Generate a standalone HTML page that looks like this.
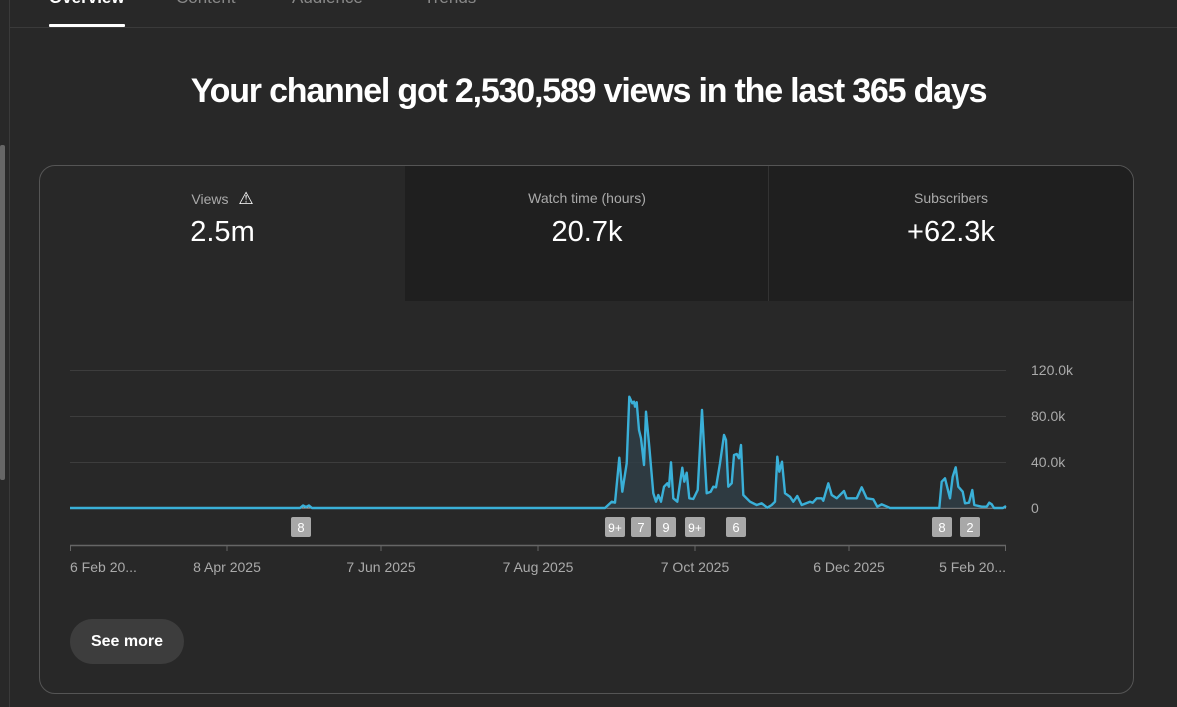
<!DOCTYPE html>
<html><head><meta charset="utf-8"><style>
body{margin:0;width:1177px;height:707px;background:#282828;overflow:hidden;font-family:"Liberation Sans",sans-serif;position:relative}
.a{position:absolute}
</style></head><body>
<div class="a" style="left:9px;top:0;width:1px;height:707px;background:#3a3a3a"></div>
<div class="a" style="left:0;top:145px;width:5px;height:335px;background:#666;border-radius:2px"></div>
<div class="a" style="left:10px;top:27px;width:1167px;height:1px;background:#3a3a3a"></div>
<div class="a" style="left:49px;top:-12px;font-size:17px;font-weight:bold;color:#fff">Overview</div>
<div class="a" style="left:176px;top:-12px;font-size:17px;color:#888">Content</div>
<div class="a" style="left:292px;top:-12px;font-size:17px;color:#888">Audience</div>
<div class="a" style="left:424px;top:-12px;font-size:17px;color:#888">Trends</div>
<div class="a" style="left:49px;top:24px;width:76px;height:3px;background:#fff;border-radius:1px"></div>
<div class="a" style="left:0;width:1177px;top:72px;text-align:center;font-size:34px;font-weight:bold;color:#fff;letter-spacing:-1.2px">Your channel got 2,530,589 views in the last 365 days</div>
<div class="a" style="left:39px;top:165px;width:1093px;height:527px;border:1px solid #555;border-radius:16px;overflow:hidden">
  <div class="a" style="left:365px;top:0;width:728px;height:135px;background:#1f1f1f"></div>
  <div class="a" style="left:728px;top:0;width:1px;height:135px;background:#333"></div>
  <div class="a" style="left:0;width:365px;top:23px;text-align:center;font-size:14px;color:#aaa">Views <span style="color:#fff;font-size:17px;margin-left:6px">⚠</span></div>
  <div class="a" style="left:0;width:365px;top:50px;text-align:center;font-size:29px;color:#fff">2.5m</div>
  <div class="a" style="left:365px;width:364px;top:24px;text-align:center;font-size:14px;color:#aaa">Watch time (hours)</div>
  <div class="a" style="left:365px;width:364px;top:50px;text-align:center;font-size:29px;color:#fff">20.7k</div>
  <div class="a" style="left:729px;width:364px;top:24px;text-align:center;font-size:14px;color:#aaa">Subscribers</div>
  <div class="a" style="left:729px;width:364px;top:50px;text-align:center;font-size:29px;color:#fff">+62.3k</div>
</div>
<svg class="a" style="left:0;top:0" width="1177" height="707">
<g stroke="#3d3d3d" stroke-width="1"><line x1="70" x2="1006" y1="370.5" y2="370.5"/><line x1="70" x2="1006" y1="416.5" y2="416.5"/><line x1="70" x2="1006" y1="462.5" y2="462.5"/></g>
<line x1="70" x2="1006" y1="508" y2="508" stroke="#bbb" stroke-width="1"/>
<g font-size="14" fill="#aaa" font-family="Liberation Sans"><text x="1031" y="375">120.0k</text><text x="1031" y="421">80.0k</text><text x="1031" y="467">40.0k</text><text x="1031" y="513">0</text></g>
<polygon fill="#2f3f47" opacity="0.8" points="590,508 605,508 611.7,501.7 615,502.7 619.3,457.7 622.3,491.7 626.7,463.3 629.3,396.7 632.3,403.3 634,401.7 635,406.7 636.7,402.3 639,430 641,438.3 644,465 646,411.7 649.3,446.7 653.3,493.3 656,501.7 658.3,495 661,501.7 664,486.7 667.3,483.3 669,486.7 671,462.3 673.3,498.3 677.3,501.7 682.3,467.7 684.3,481.7 686.7,472.7 689.3,498.3 693.3,499 697.7,490 702,410 706.7,493.3 710.7,491.7 713.3,486.7 716,487.3 720,463.3 724,435 726,440 728.3,486.7 731.7,483.3 734,455 736.7,454 739,458.3 741,445 743.3,495 750,501.7 756.7,505 761.7,503.3 767.3,507.7 771.7,505 775,501.7 777.3,456.7 779.3,471.7 782,461.7 785,493.3 790,496.7 793.3,501.7 797.3,496 801.7,505 810,501.7 812.7,502.7 816.7,498.3 821.7,498.3 823.3,500.7 828.3,483.3 831.7,495 836.7,498.3 844,491 846.7,498.3 856.7,498.3 861.7,487.3 866.7,498.3 873.3,499.3 877.3,506.7 881.7,504.3 890,508 939.3,508 941.7,481.7 945,478.3 950,498.3 952.7,476.7 955.7,467.3 958.3,486.7 962.7,491.7 965,503.3 969,502.7 972.3,490 974.3,505 981.7,506.7 986.7,506.7 989.3,502.7 991.7,504.3 994,508 1006,508"/>
<polyline fill="none" stroke="#3ab0d8" stroke-width="2.4" stroke-linejoin="round" points="70,508 300,508 303,505.5 306,507 309,505.5 312,508 590,508 605,508 611.7,501.7 615,502.7 619.3,457.7 622.3,491.7 626.7,463.3 629.3,396.7 632.3,403.3 634,401.7 635,406.7 636.7,402.3 639,430 641,438.3 644,465 646,411.7 649.3,446.7 653.3,493.3 656,501.7 658.3,495 661,501.7 664,486.7 667.3,483.3 669,486.7 671,462.3 673.3,498.3 677.3,501.7 682.3,467.7 684.3,481.7 686.7,472.7 689.3,498.3 693.3,499 697.7,490 702,410 706.7,493.3 710.7,491.7 713.3,486.7 716,487.3 720,463.3 724,435 726,440 728.3,486.7 731.7,483.3 734,455 736.7,454 739,458.3 741,445 743.3,495 750,501.7 756.7,505 761.7,503.3 767.3,507.7 771.7,505 775,501.7 777.3,456.7 779.3,471.7 782,461.7 785,493.3 790,496.7 793.3,501.7 797.3,496 801.7,505 810,501.7 812.7,502.7 816.7,498.3 821.7,498.3 823.3,500.7 828.3,483.3 831.7,495 836.7,498.3 844,491 846.7,498.3 856.7,498.3 861.7,487.3 866.7,498.3 873.3,499.3 877.3,506.7 881.7,504.3 890,508 939.3,508 941.7,481.7 945,478.3 950,498.3 952.7,476.7 955.7,467.3 958.3,486.7 962.7,491.7 965,503.3 969,502.7 972.3,490 974.3,505 981.7,506.7 986.7,506.7 989.3,502.7 991.7,504.3 994,508 1003,508 1006,506"/>
<g fill="#a8a8a8"><rect x="291" y="517" width="20" height="20" rx="2"/><rect x="605" y="517" width="20" height="20" rx="2"/><rect x="631" y="517" width="20" height="20" rx="2"/><rect x="656" y="517" width="20" height="20" rx="2"/><rect x="685" y="517" width="20" height="20" rx="2"/><rect x="726" y="517" width="20" height="20" rx="2"/><rect x="932" y="517" width="20" height="20" rx="2"/><rect x="960" y="517" width="20" height="20" rx="2"/></g>
<g fill="#fff" font-size="13" text-anchor="middle" font-family="Liberation Sans"><text x="301" y="532">8</text><text x="615" y="532" font-size="12">9+</text><text x="641" y="532">7</text><text x="666" y="532">9</text><text x="695" y="532" font-size="12">9+</text><text x="736" y="532">6</text><text x="942" y="532">8</text><text x="970" y="532">2</text></g>
<line x1="70" x2="1006" y1="545.5" y2="545.5" stroke="#666" stroke-width="1.5"/>
<g stroke="#666"><line x1="70.5" x2="70.5" y1="545" y2="551"/><line x1="227" x2="227" y1="545" y2="551"/><line x1="381" x2="381" y1="545" y2="551"/><line x1="538" x2="538" y1="545" y2="551"/><line x1="695" x2="695" y1="545" y2="551"/><line x1="849" x2="849" y1="545" y2="551"/><line x1="1005.5" x2="1005.5" y1="545" y2="551"/></g>
<g fill="#aaa" font-size="14" font-family="Liberation Sans"><text x="70" y="572">6 Feb 20...</text><text x="227" y="572" text-anchor="middle">8 Apr 2025</text><text x="381" y="572" text-anchor="middle">7 Jun 2025</text><text x="538" y="572" text-anchor="middle">7 Aug 2025</text><text x="695" y="572" text-anchor="middle">7 Oct 2025</text><text x="849" y="572" text-anchor="middle">6 Dec 2025</text><text x="1006" y="572" text-anchor="end">5 Feb 20...</text></g>
</svg>
<div class="a" style="left:70px;top:619px;width:114px;height:45px;border-radius:23px;background:#3d3d3d;color:#fff;font-weight:bold;font-size:16px;line-height:45px;text-align:center">See more</div>
</body></html>
